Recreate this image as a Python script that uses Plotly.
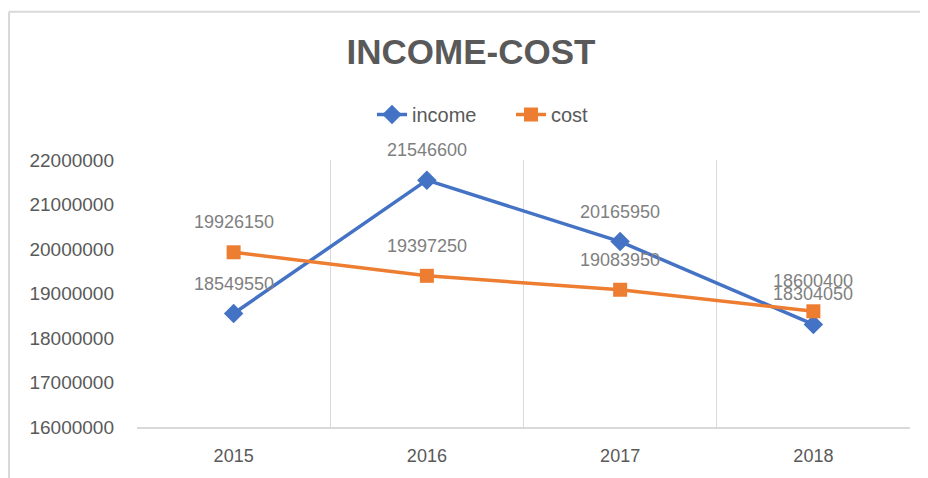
import plotly.graph_objects as go

years = ["2015", "2016", "2017", "2018"]
income = [18549550, 21546600, 20165950, 18304050]
cost = [19926150, 19397250, 19083950, 18600400]
y_ticks = [16000000, 17000000, 18000000, 19000000, 20000000, 21000000, 22000000]

BLUE = "#4472C4"
ORANGE = "#ED7D31"
GRID = "#D9D9D9"
TXT = "#595959"
LBL = "#7F7F7F"
FONT = "Liberation Sans, Arial, sans-serif"

fig = go.Figure()
fig.add_trace(go.Scatter(x=years, y=income, name="income", mode="lines+markers",
                         line=dict(color=BLUE, width=3.5),
                         marker=dict(symbol="diamond", size=15, color=BLUE)))
fig.add_trace(go.Scatter(x=years, y=cost, name="cost", mode="lines+markers",
                         line=dict(color=ORANGE, width=3.5),
                         marker=dict(symbol="square", size=14, color=ORANGE)))

annotations = []
for series in (income, cost):
    for i, yv in enumerate(series):
        annotations.append(dict(x=i, y=yv, xref="x", yref="y", text=str(yv), showarrow=False,
                                yshift=30, xanchor="center", yanchor="middle",
                                font=dict(family=FONT, size=18, color=LBL)))

# page is offset by 8px (body margin); work in page pixels and convert
OFF = 8
W, H = 928 - OFF, 478 - OFF
PL, PR, PT, PB = 137, 910, 160, 430  # plot area in page pixels
ml, mr, mt, mb = PL - OFF, W - (PR - OFF), PT - OFF, H - (PB - OFF)
pw, ph = PR - PL, PB - PT

def px(xp):
    return (xp - PL) / pw

def py(yp):
    return (PB - yp) / ph

shapes = [
    dict(type="line", xref="paper", yref="paper", x0=px(9), x1=px(940), y0=py(10), y1=py(10),
         line=dict(color=GRID, width=2)),
    dict(type="line", xref="paper", yref="paper", x0=px(9), x1=px(9), y0=py(10), y1=py(490),
         line=dict(color=GRID, width=2)),
]

fig.update_layout(
    width=W, height=H,
    margin=dict(l=ml, r=mr, t=mt, b=mb),
    paper_bgcolor="white", plot_bgcolor="white",
    title=dict(text="<b>INCOME-COST</b>", x=(471 - OFF) / W, xanchor="center", xref="container",
               y=1 - (52 - OFF) / H, yanchor="middle", yref="container",
               font=dict(family=FONT, size=35, color=TXT)),
    legend=dict(orientation="h", x=px(511), xanchor="center", y=py(114), yanchor="middle",
                font=dict(family=FONT, size=20, color=TXT),
                entrywidth=94, entrywidthmode="pixels",
                bgcolor="rgba(0,0,0,0)"),
    annotations=annotations,
    shapes=shapes,
    xaxis=dict(type="category", range=[-0.5, 3.5], tickson="boundaries", showgrid=True,
               gridcolor=GRID, gridwidth=1, showline=True, linecolor=GRID, linewidth=1.5,
               ticks="", tickfont=dict(family=FONT, size=18, color=TXT),
               ticklabelstandoff=12, zeroline=False),
    yaxis=dict(range=[16000000, 22000000], tickvals=y_ticks, ticktext=[str(v) for v in y_ticks],
               showgrid=False, zeroline=False, showline=False, ticks="",
               tickfont=dict(family=FONT, size=19, color=TXT), ticklabelstandoff=22),
)

fig.write_html("out.html")
